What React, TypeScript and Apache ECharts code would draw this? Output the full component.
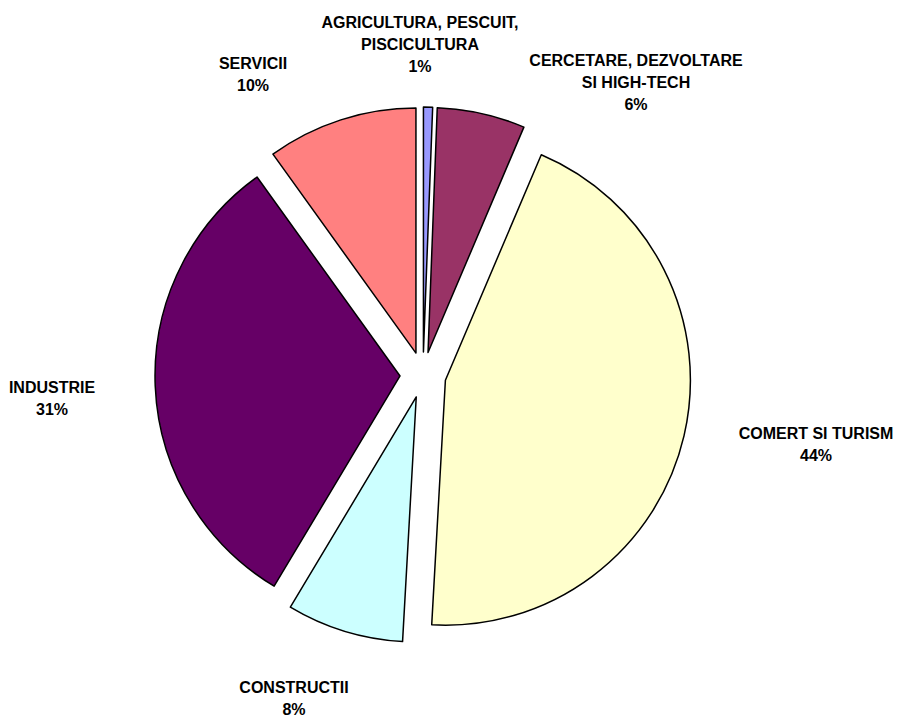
import React, { useEffect, useRef } from "react";
import * as echarts from "echarts";

const CATEGORIES = [
  "AGRICULTURA, PESCUIT,\nPISCICULTURA",
  "CERCETARE, DEZVOLTARE\nSI HIGH-TECH",
  "COMERT SI TURISM",
  "CONSTRUCTII",
  "INDUSTRIE",
  "SERVICII",
];
const VALUES = [0.6, 5.8, 44.49, 7.7, 31.49, 9.92];
const COLORS = ["#9999FF", "#993366", "#FFFFCC", "#CCFFFF", "#660066", "#FF8080"];
// label block centres (annotation placement)
const LABEL_POS: [number, number][] = [
  [420, 44],
  [636, 82],
  [816, 444],
  [294, 698],
  [52, 398],
  [253, 74],
];

export default function App() {
  const ref = useRef<HTMLDivElement>(null);
  useEffect(() => {
    if (!ref.current) return;
    const chart = echarts.init(ref.current, undefined, { renderer: "svg" });
    const total = VALUES.reduce((a, b) => a + b, 0);
    const labels = CATEGORIES.map((name, i) => ({
      type: "text",
      x: LABEL_POS[i][0],
      y: LABEL_POS[i][1],
      silent: true,
      style: {
        text: `${name}\n${Math.round((VALUES[i] / total) * 100)}%`,
        fill: "#000000",
        font: "bold 16px 'Liberation Sans', Arial, sans-serif",
        lineHeight: 22,
        textAlign: "center",
        textVerticalAlign: "middle",
      },
    }));
    chart.setOption({
      animation: false,
      backgroundColor: "#ffffff",
      graphic: labels,
      series: [
        {
          type: "pie",
          center: [423, 375],
          radius: 245,
          startAngle: 90,
          clockwise: true,
          avoidLabelOverlap: false,
          selectedMode: "multiple",
          selectedOffset: 23,
          silent: true,
          itemStyle: { borderColor: "#000000", borderWidth: 1.5 },
          label: { show: false },
          labelLine: { show: false },
          data: CATEGORIES.map((name, i) => ({
            name,
            value: VALUES[i],
            selected: true,
            itemStyle: { color: COLORS[i] },
          })),
        },
      ],
    });
    return () => chart.dispose();
  }, []);
  return (
    <div
      ref={ref}
      style={{ position: "fixed", left: 0, top: 0, width: 899, height: 716 }}
    />
  );
}
